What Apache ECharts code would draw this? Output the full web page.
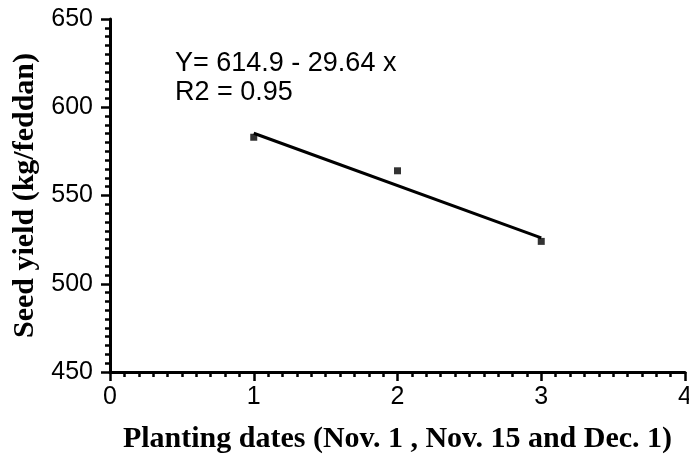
<!DOCTYPE html>
<html>
<head>
<meta charset="utf-8">
<script src="https://cdn.jsdelivr.net/npm/echarts@6/dist/echarts.min.js"></script>
<style>html,body{margin:0;padding:0;background:#fff}#c{width:689px;height:457px}</style>
</head>
<body>
<div id="c"></div>
<script>
// Data
const xValues = [1, 2, 3];
const seedYield = [583, 564, 524];
const fitLine = [[1, 585.26], [3, 525.98]];
const xTicks = [0, 1, 2, 3, 4];
const yTicks = [450, 500, 550, 600, 650];
const eqLines = ['Y= 614.9 - 29.64 x', 'R2 = 0.95'];
const xTitle = 'Planting dates (Nov. 1 , Nov. 15 and Dec. 1)';
const yTitle = 'Seed yield (kg/feddan)';

const chart = echarts.init(document.getElementById('c'), null, {renderer: 'canvas'});
const axisCommon = {
  axisLine: {show: true, onZero: false, lineStyle: {color: '#000', width: 3}},
  axisTick: {show: true, length: 9, lineStyle: {color: '#000', width: 2.5}},
  minorTick: {show: true, splitNumber: 10, length: 5, lineStyle: {color: '#000', width: 2.5}},
  splitLine: {show: false},
  axisLabel: {color: '#000', fontFamily: 'Liberation Sans', fontSize: 25}
};
chart.setOption({
  animation: false,
  grid: {left: 110, right: 4, top: 19, bottom: 85, containLabel: false, outerBoundsMode: 'none'},
  xAxis: Object.assign({}, axisCommon, {
    type: 'value', min: xTicks[0], max: xTicks[xTicks.length - 1], interval: 1,
    name: xTitle, nameLocation: 'middle', nameGap: 52,
    nameTextStyle: {color: '#000', fontFamily: 'Liberation Serif', fontWeight: 'bold', fontSize: 30},
    axisLabel: Object.assign({}, axisCommon.axisLabel, {margin: 13, showMaxLabel: true, showMinLabel: true})
  }),
  yAxis: Object.assign({}, axisCommon, {
    type: 'value', min: yTicks[0], max: yTicks[yTicks.length - 1], interval: 50,
    name: yTitle, nameLocation: 'middle', nameGap: 69,
    nameTextStyle: {color: '#000', fontFamily: 'Liberation Serif', fontWeight: 'bold', fontSize: 30},
    axisLabel: Object.assign({}, axisCommon.axisLabel, {margin: 17})
  }),
  series: [
    {
      type: 'line', data: fitLine, symbol: 'none',
      lineStyle: {color: '#000', width: 3}, z: 2
    },
    {
      type: 'scatter', data: xValues.map((x, i) => [x, seedYield[i]]),
      symbol: 'rect', symbolSize: 7, itemStyle: {color: '#000'}, z: 3
    }
  ],
  graphic: [
    {type: 'text', left: 175, top: 50, style: {text: eqLines[0], fill: '#000', font: '27px "Liberation Sans"'}},
    {type: 'text', left: 175, top: 79, style: {text: eqLines[1], fill: '#000', font: '27px "Liberation Sans"'}}
  ]
});
</script>
</body>
</html>
